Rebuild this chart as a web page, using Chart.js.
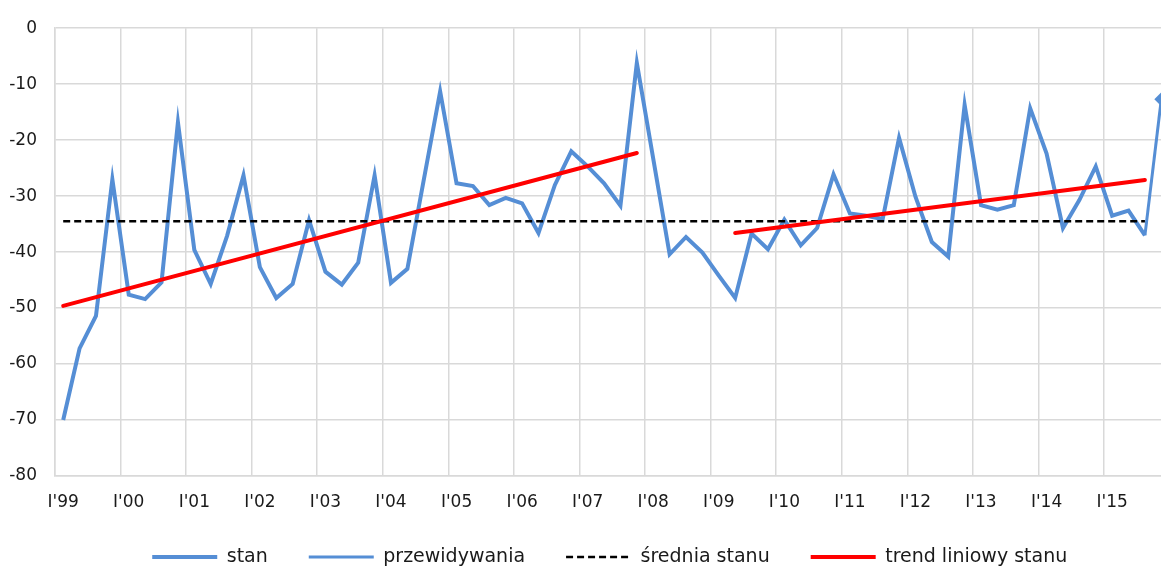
<!DOCTYPE html>
<html>
<head>
<meta charset="utf-8">
<script src="https://cdn.jsdelivr.net/npm/chart.js@4/dist/chart.umd.min.js"></script>
<style>
html,body{margin:0;padding:0;background:#fff;overflow:hidden;}
#wrap{width:1200px;height:572px;position:relative;}
</style>
</head>
<body>
<div id="wrap"><canvas id="c" width="1200" height="572"></canvas></div>
<script>
// ---- data ----
const years = ['99','00','01','02','03','04','05','06','07','08','09','10','11','12','13','14','15'];
const quarterNames = ['I','II','III','IV'];
const categories = [];
years.forEach(y => quarterNames.forEach(q => categories.push(q + "'" + y)));

const stan = [
  -70.0, -57.2, -51.4, -27.0,   // 1999
  -47.6, -48.4, -45.4, -16.8,   // 2000
  -39.6, -45.7, -37.1, -26.3,   // 2001
  -42.7, -48.2, -45.7, -34.3,   // 2002
  -43.5, -45.8, -41.9, -26.3,   // 2003
  -45.5, -43.0, -27.1, -11.3,   // 2004
  -27.7, -28.2, -31.6, -30.3,   // 2005
  -31.3, -36.6, -28.0, -22.0,   // 2006
  -24.7, -27.7, -31.7,  -6.2,   // 2007
  -23.3, -40.4, -37.3, -40.1,   // 2008
  -44.2, -48.2, -36.7, -39.5,   // 2009
  -34.2, -38.8, -35.7, -26.1,   // 2010
  -33.1, -33.5, -34.1, -19.6,   // 2011
  -30.1, -38.2, -40.8, -13.7,   // 2012
  -31.6, -32.4, -31.6, -14.3,   // 2013
  -22.4, -35.7, -30.7, -24.7,   // 2014
  -33.5, -32.6, -37.0, null     // 2015
];
const przewidywania = categories.map(() => null);
przewidywania[66] = -37.0;
przewidywania[67] = -12.7;

const sredniaStanu = categories.map(() => null);
sredniaStanu[0] = -34.5;
sredniaStanu[66] = -34.5;

// linear trend: two separate segments (1999-2007, 2009-2015)
const trendStanu1 = categories.map(() => null);
trendStanu1[0] = -49.6;
trendStanu1[35] = -22.3;
const trendStanu2 = categories.map(() => null);
trendStanu2[41] = -36.6;
trendStanu2[66] = -27.1;

const yTicks = [0, -10, -20, -30, -40, -50, -60, -70, -80];

// ---- styles ----
const BLUE = '#558ED5';
const GRID = '#d9d9d9';
const FONT = 'DejaVu Sans';
const LEGEND_H = 50;

const legendShift = {
  id: 'legendShift',
  afterLayout(chart) {
    const lg = chart.legend;
    if (!lg) return;
    const dx = 25;
    lg.left += dx; lg.right += dx;
    lg.top = 557 - 41 - 9.5;
  }
};

new Chart(document.getElementById('c'), {
  type: 'line',
  data: {
    labels: categories,
    datasets: [
      { label: 'stan', data: stan, borderColor: BLUE, backgroundColor: BLUE,
        borderWidth: 4, pointRadius: 0, tension: 0, order: 3 },
      { label: 'przewidywania', data: przewidywania, borderColor: BLUE, backgroundColor: BLUE,
        borderWidth: 3, tension: 0, order: 2,
        pointStyle: 'rectRot',
        pointRadius: ctx => (ctx.dataIndex === 67 ? 7 : 0),
        pointBorderWidth: 0 },
      { label: 'średnia stanu', data: sredniaStanu, borderColor: '#000', backgroundColor: '#000',
        borderWidth: 2.5, borderDash: [7, 4], pointRadius: 0, spanGaps: true, order: 1 },
      { label: 'trend liniowy stanu', data: trendStanu1, borderColor: '#ff0000', backgroundColor: '#ff0000',
        borderWidth: 4, pointRadius: 0, spanGaps: true, order: 0, borderCapStyle: 'round' },
      { label: 'trend liniowy stanu (2)', data: trendStanu2, borderColor: '#ff0000', backgroundColor: '#ff0000',
        borderWidth: 4, pointRadius: 0, spanGaps: true, order: 0, borderCapStyle: 'round' }
    ]
  },
  options: {
    responsive: false,
    animation: false,
    devicePixelRatio: 1,
    layout: { padding: { left: 0, right: 30.5, top: 23, bottom: 0 } },
    plugins: {
      tooltip: { enabled: false },
      legend: {
        position: 'bottom',
        maxHeight: LEGEND_H,
        labels: {
          usePointStyle: true,
          pointStyleWidth: 65,
          padding: 41,
          color: '#1a1a1a',
          font: { family: FONT, size: 19 },
          filter: item => item.datasetIndex < 4,
          sort: (a, b) => a.datasetIndex - b.datasetIndex,
          generateLabels: chart => Chart.defaults.plugins.legend.labels.generateLabels(chart)
            .map(l => {
              const ds = chart.data.datasets[l.datasetIndex];
              return Object.assign(l, {
                pointStyle: 'line',
                strokeStyle: ds.borderColor,
                lineWidth: ds.borderWidth,
                lineDash: ds.borderDash || []
              });
            })
        }
      }
    },
    scales: {
      x: {
        type: 'category',
        offset: true,
        grid: {
          offset: true,
          drawTicks: false,
          lineWidth: 1.5,
          color: ctx => (ctx.index % 4 === 0 ? GRID : 'rgba(0,0,0,0)')
        },
        border: { color: GRID, width: 1.5 },
        ticks: {
          autoSkip: false, maxRotation: 0, minRotation: 0, padding: 16,
          color: '#1a1a1a', font: { family: FONT, size: 17 },
          callback: (v, i) => (categories[i].startsWith("I'") ? categories[i] : '')
        },
        afterFit: s => { s.height = Math.max(0, 572 - 476 - (s.chart.legend ? s.chart.legend.height : LEGEND_H)); }
      },
      y: {
        min: yTicks[yTicks.length - 1], max: yTicks[0],
        afterBuildTicks: s => { s.ticks = yTicks.map(v => ({ value: v })); },
        grid: { drawTicks: false, lineWidth: 1.5, color: GRID },
        border: { color: GRID, width: 1.5 },
        ticks: { padding: 18, color: '#1a1a1a', font: { family: FONT, size: 17 } },
        afterFit: s => { s.width = 55; }
      }
    }
  },
  plugins: [legendShift]
});
</script>
</body>
</html>
